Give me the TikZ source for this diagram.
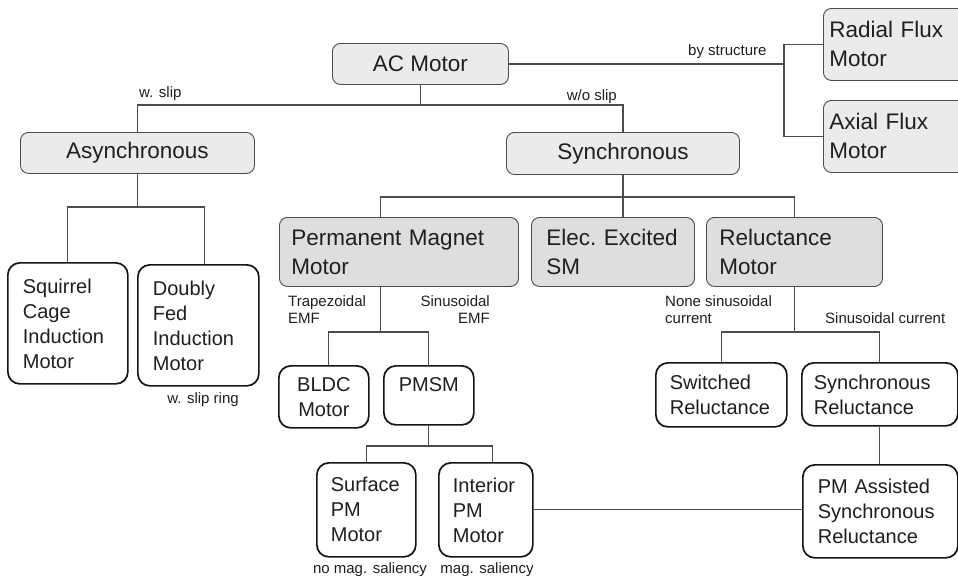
\documentclass[tikz,border=0pt]{standalone}
\usepackage{fontspec}
\setmainfont{Liberation Sans}
\begin{document}
\begin{tikzpicture}[x=1pt,y=-1pt,
  txt/.style={text=black!88},
  gboxa/.style={txt,draw=black!70,line width=0.9pt,fill=black!8,rounded corners=8pt,
    anchor=north west,inner xsep=0pt,inner ysep=0pt,
    font=\fontsize{22.5}{29}\selectfont},
  gboxb/.style={gboxa,fill=black!13},
  wbox/.style={txt,draw=black!92,line width=1.7pt,fill=white,rounded corners=12pt,
    anchor=north west,inner xsep=0pt,inner ysep=0pt,
    font=\fontsize{20}{25}\selectfont},
  conn/.style={draw=black!70,line width=1.1pt},
  lbl/.style={txt,inner sep=0pt,font=\fontsize{15}{17}\selectfont},
]
\fill[white] (0,0) rectangle (958,579);
\useasboundingbox (0,0) rectangle (958,579);

% top level
\node[gboxa,minimum width=176,minimum height=41] (ac) at (332,43) {AC Motor};
\node[gboxa,minimum width=234,minimum height=41] (async) at (20,132) {Asynchronous};
\node[gboxa,minimum width=233,minimum height=42] (sync) at (506,132) {Synchronous};
\node[gboxa,minimum width=150,minimum height=72,text width=138,align=left] (radial) at (823,8) {Radial Flux\\Motor};
\node[gboxa,minimum width=150,minimum height=72,text width=138,align=left] (axial) at (823,100) {Axial Flux\\Motor};

% synchronous families
\node[gboxb,minimum width=239,minimum height=69,text width=215,align=left] (pm) at (279,217) {Permanent Magnet\\Motor};
\node[gboxb,minimum width=163,minimum height=69,text width=133,align=left] (elec) at (531,217) {\mbox{Elec.\ Excited}\\SM};
\node[gboxb,minimum width=176,minimum height=69,text width=150,align=left] (rel) at (706,217) {Reluctance\\Motor};

% leaves
\node[wbox,minimum width=120,minimum height=121,text width=90,align=left] (squirrel) at (7,262) {Squirrel\\Cage\\Induction\\Motor};
\node[wbox,minimum width=121,minimum height=121,text width=91,align=left] (doubly) at (137,264) {Doubly\\Fed\\Induction\\Motor};
\node[wbox,minimum width=90,minimum height=62,text width=70,align=center] (bldc) at (278,365) {BLDC\\Motor};
\node[wbox,minimum width=90,minimum height=59,text width=70,align=center] (pmsm) at (383,365) {PMSM\\[-4pt]~};
\node[wbox,minimum width=99,minimum height=94,text width=71,align=left] (surface) at (316,462) {Surface\\PM\\Motor};
\node[wbox,minimum width=94,minimum height=94,text width=66,align=left] (interior) at (438,462) {Interior\\PM\\Motor};
\node[wbox,minimum width=131,minimum height=64,text width=103,align=left] (switched) at (655,362) {Switched\\Reluctance};
\node[wbox,minimum width=156,minimum height=63,text width=132,align=left] (synrel) at (801,362) {Synchronous\\Reluctance};
\node[wbox,minimum width=155,minimum height=93,text width=125,align=left] (pmassist) at (802,464) {PM Assisted\\Synchronous\\Reluctance};

% junction levels and branch points
\coordinate (j1) at (0,105);
\coordinate (js) at (784,0);
\coordinate (ja) at (0,207);
\coordinate (jsy) at (0,197);
\coordinate (jpm) at (0,332);
\coordinate (jps) at (0,446);
\coordinate (dn) at ([xshift=6.5pt]doubly.north);
\coordinate (pmt) at ([xshift=-18.5pt]pm.north);
\coordinate (pmb) at ([xshift=-18.5pt]pm.south);
\coordinate (bt) at ([xshift=5pt]bldc.north);
\coordinate (it) at ([xshift=7pt]interior.north);

% connectors
\draw[conn] (ac.south) -- (ac.south |- j1);
\draw[conn] (async.north) |- (sync.north |- j1) -- (sync.north);
\draw[conn] (ac.east) -- (ac.east -| js);
\draw[conn] (radial.west) -| (js |- axial.west) -- (axial.west);
\draw[conn] (async.south) -- (async.south |- ja);
\draw[conn] (squirrel.north) |- (dn |- ja) -- (dn);
\draw[conn] (sync.south) -- (sync.south |- elec.north);
\draw[conn] (pmt) |- (rel.north |- jsy) -- (rel.north);
\draw[conn] (pmb) -- (pmb |- jpm);
\draw[conn] (bt) |- (pmsm.north |- jpm) -- (pmsm.north);
\draw[conn] (pmsm.south) -- (pmsm.south |- jps);
\draw[conn] (surface.north) |- (it |- jps) -- (it);
\draw[conn] (rel.south) -- (rel.south |- jpm);
\draw[conn] (switched.north) |- (synrel.north |- jpm) -- (synrel.north);
\draw[conn] (synrel.south) -- (synrel.south |- pmassist.north);
\draw[conn] (interior.east) -- (pmassist.west |- interior.east);

% branch labels
\node[lbl,anchor=base west] (lslip) at (139,97) {w. slip};
\node[lbl,anchor=base east] (lnoslip) at (617,100) {w/o slip};
\node[lbl,anchor=base west] (lstruct) at (688,55) {by structure};
\node[lbl,anchor=base] (lring) at (203,403) {w. slip ring};
\node[lbl,anchor=base west,align=left] (ltrap) at (288,323) {Trapezoidal\\EMF};
\node[lbl,anchor=base east,align=right] (lsin) at (490,323) {Sinusoidal\\EMF};
\node[lbl,anchor=base west,align=left] (lnone) at (665,323) {None sinusoidal\\current};
\node[lbl,anchor=base west] (lsincur) at (825,323) {Sinusoidal current};
\node[lbl,anchor=base] (lnosal) at (370,573) {no mag. saliency};
\node[lbl,anchor=base] (lsal) at (487,573) {mag. saliency};
\end{tikzpicture}
\end{document}
